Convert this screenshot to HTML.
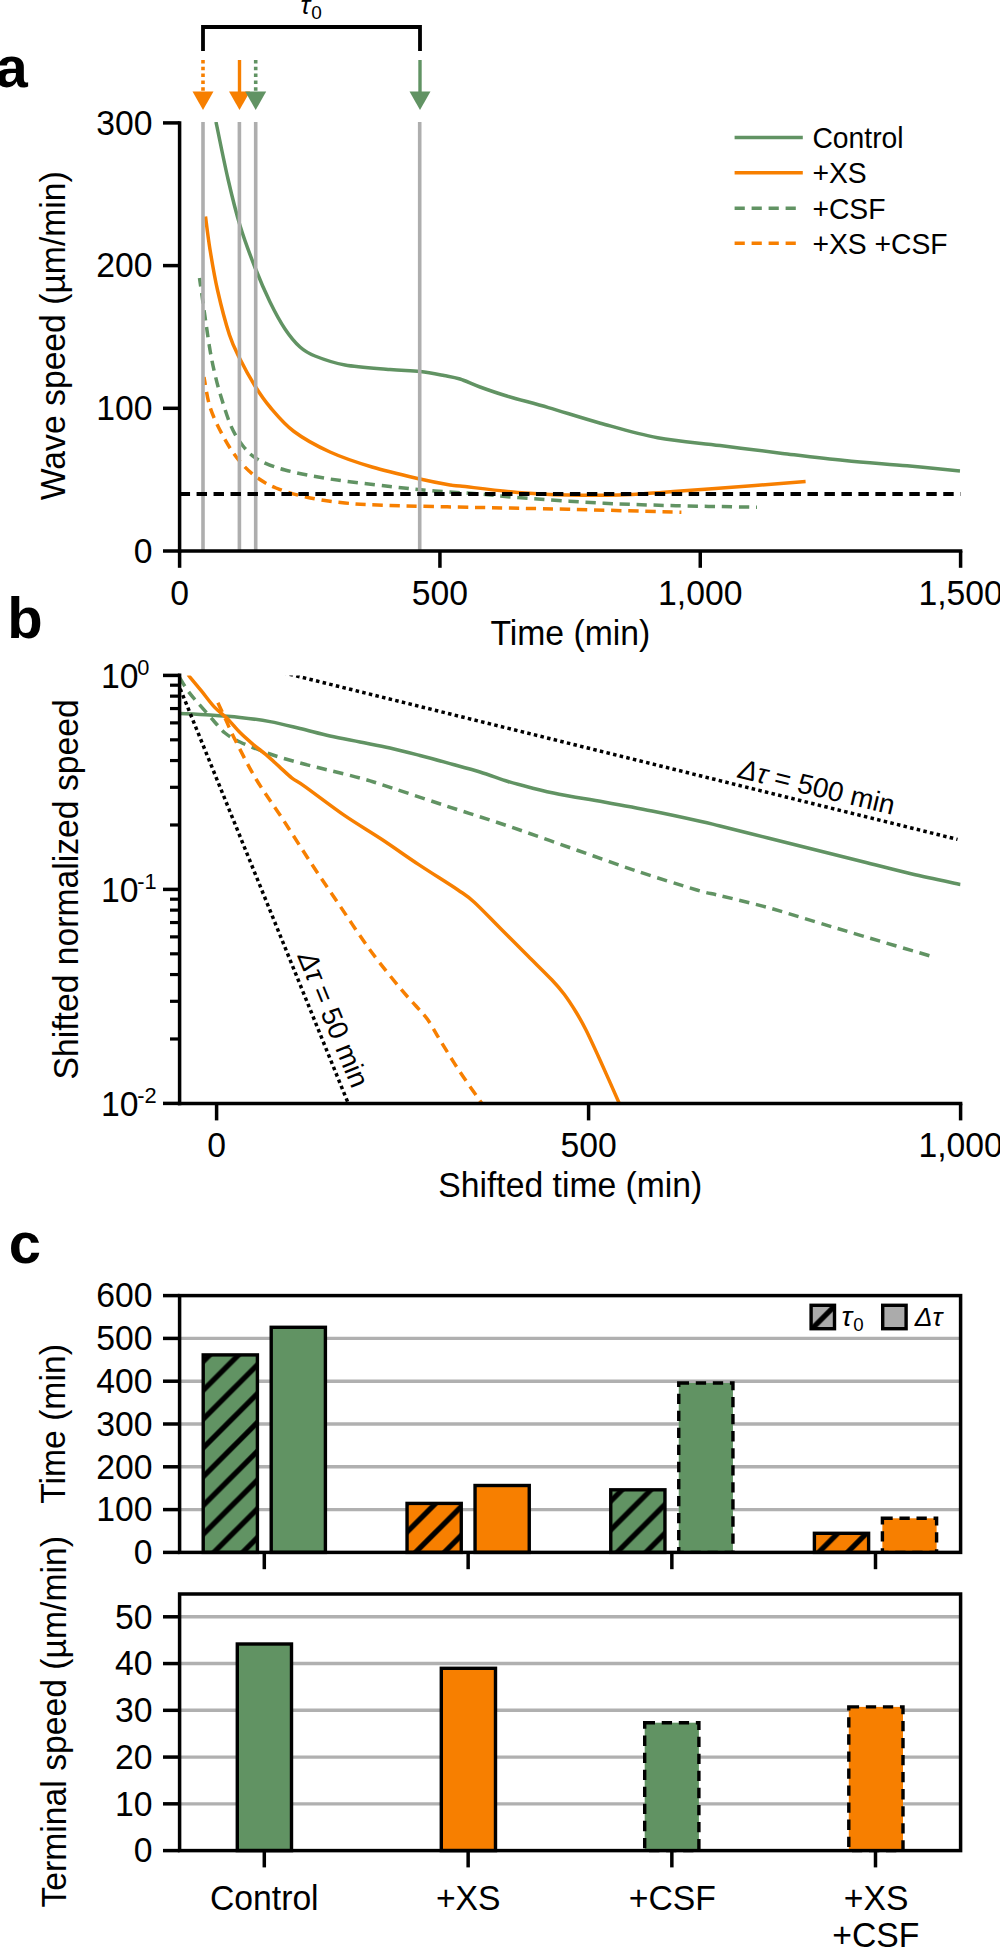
<!DOCTYPE html>
<html><head><meta charset="utf-8"><style>
html,body{margin:0;padding:0;background:#fff;}
svg{display:block;}
text{font-family:"Liberation Sans",sans-serif;fill:#000;}
</style></head><body>
<svg width="1000" height="1948" viewBox="0 0 1000 1948">
<defs>
<clipPath id="clipA"><rect x="179.6" y="122" width="781" height="429"/></clipPath>
<clipPath id="clipB"><rect x="179.6" y="675.4" width="781" height="428.2"/></clipPath>
<pattern id="hatch" patternUnits="userSpaceOnUse" x="0" y="0" width="28.8" height="28.8">
<path d="M-10.00,-9.30 L-9.30,-10.00 M-10.00,19.50 L19.50,-10.00 M-10.00,48.30 L48.30,-10.00 M-10.00,77.10 L77.10,-10.00" stroke="#000" stroke-width="5.2"/>
</pattern>
</defs>
<rect width="1000" height="1948" fill="#fff"/>
<text transform="translate(-4.50,87.30) scale(1,1)" font-size="58" font-weight="bold">a</text>
<path d="M203.00,51.00 L203.00,27.00 L420.00,27.00 L420.00,51.00" fill="none" stroke="#000" stroke-width="3.8" stroke-linejoin="miter"/>
<text transform="translate(300.50,13.70) scale(1,1)" font-size="26" font-style="italic">τ</text>
<text transform="translate(311.30,19.30) scale(1,1)" font-size="19">0</text>
<line x1="203.00" y1="60.00" x2="203.00" y2="91.50" stroke="#F77F00" stroke-width="3.6" stroke-dasharray="3.5,3.3"/>
<path d="M192.50,91.5 L213.50,91.5 L203.00,110 Z" fill="#F77F00"/>
<line x1="239.50" y1="60.00" x2="239.50" y2="92.00" stroke="#F77F00" stroke-width="3.4"/>
<path d="M229.00,91.5 L250.00,91.5 L239.50,110 Z" fill="#F77F00"/>
<line x1="255.70" y1="60.00" x2="255.70" y2="91.50" stroke="#619363" stroke-width="3.6" stroke-dasharray="3.5,3.3"/>
<path d="M245.20,91.5 L266.20,91.5 L255.70,110 Z" fill="#619363"/>
<line x1="420.00" y1="60.00" x2="420.00" y2="92.00" stroke="#619363" stroke-width="3.4"/>
<path d="M409.50,91.5 L430.50,91.5 L420.00,110 Z" fill="#619363"/>
<g clip-path="url(#clipA)">
<path d="M216.00,122.00 C218.00,131.50 224.00,161.75 228.00,179.00 C232.00,196.25 235.50,210.75 240.00,225.50 C244.50,240.25 250.00,254.75 255.00,267.50 C260.00,280.25 265.00,291.75 270.00,302.00 C275.00,312.25 280.00,321.50 285.00,329.00 C290.00,336.50 295.00,342.50 300.00,347.00 C305.00,351.50 307.50,353.00 315.00,356.00 C322.50,359.00 332.50,362.75 345.00,365.00 C357.50,367.25 377.50,368.40 390.00,369.50 C402.50,370.60 411.00,370.60 420.00,371.60 C429.00,372.60 437.33,374.27 444.00,375.50 C450.67,376.73 454.00,377.08 460.00,379.00 C466.00,380.92 472.20,384.17 480.00,387.00 C487.80,389.83 495.40,392.57 506.80,396.00 C518.20,399.43 532.80,403.07 548.40,407.60 C564.00,412.13 582.20,418.17 600.40,423.20 C618.60,428.23 637.67,434.07 657.60,437.80 C677.53,441.53 699.20,443.00 720.00,445.60 C740.80,448.20 761.60,450.90 782.40,453.40 C803.20,455.90 824.00,458.53 844.80,460.60 C865.60,462.67 888.00,464.07 907.20,465.80 C926.40,467.53 951.20,470.13 960.00,471.00" fill="none" stroke="#619363" stroke-width="3.5" stroke-linejoin="round"/>
<path d="M205.50,216.50 C206.25,222.00 208.00,237.25 210.00,249.50 C212.00,261.75 214.25,275.75 217.50,290.00 C220.75,304.25 225.75,323.50 229.50,335.00 C233.25,346.50 235.75,350.50 240.00,359.00 C244.25,367.50 250.00,378.00 255.00,386.00 C260.00,394.00 263.50,399.42 270.00,407.00 C276.50,414.58 284.00,424.00 294.00,431.50 C304.00,439.00 317.00,446.08 330.00,452.00 C343.00,457.92 357.00,462.50 372.00,467.00 C387.00,471.50 407.00,476.00 420.00,479.00 C433.00,482.00 443.33,483.83 450.00,485.00 C456.67,486.17 448.73,484.77 460.00,486.00 C471.27,487.23 499.60,490.90 517.60,492.40 C535.60,493.90 551.20,494.57 568.00,495.00 C584.80,495.43 602.80,495.43 618.40,495.00 C634.00,494.57 646.00,493.43 661.60,492.40 C677.20,491.37 688.00,490.60 712.00,488.80 C736.00,487.00 790.00,482.80 805.60,481.60" fill="none" stroke="#F77F00" stroke-width="3.5" stroke-linejoin="round"/>
<path d="M199.50,278.00 C200.50,285.00 203.75,308.00 205.50,320.00 C207.25,332.00 208.50,341.27 210.00,350.00 C211.50,358.73 212.75,364.90 214.50,372.40 C216.25,379.90 217.75,386.07 220.50,395.00 C223.25,403.93 227.25,417.50 231.00,426.00 C234.75,434.50 238.50,440.42 243.00,446.00 C247.50,451.58 251.00,455.50 258.00,459.50 C265.00,463.50 273.00,466.75 285.00,470.00 C297.00,473.25 312.50,476.25 330.00,479.00 C347.50,481.75 372.50,484.50 390.00,486.50 C407.50,488.50 420.00,489.75 435.00,491.00 C450.00,492.25 465.67,492.87 480.00,494.00 C494.33,495.13 500.33,496.27 521.00,497.80 C541.67,499.33 578.17,501.88 604.00,503.20 C629.83,504.52 650.50,505.03 676.00,505.70 C701.50,506.37 743.50,506.95 757.00,507.20" fill="none" stroke="#619363" stroke-width="3.5" stroke-dasharray="10.3,6.75" stroke-dashoffset="1.6" stroke-linejoin="round"/>
<path d="M204.00,377.00 C205.00,382.00 207.00,397.50 210.00,407.00 C213.00,416.50 217.50,425.50 222.00,434.00 C226.50,442.50 231.50,451.00 237.00,458.00 C242.50,465.00 248.50,471.00 255.00,476.00 C261.50,481.00 267.50,484.50 276.00,488.00 C284.50,491.50 294.50,494.50 306.00,497.00 C317.50,499.50 331.00,501.60 345.00,503.00 C359.00,504.40 367.50,504.65 390.00,505.40 C412.50,506.15 450.33,506.85 480.00,507.50 C509.67,508.15 534.43,508.52 568.00,509.30 C601.57,510.08 662.50,511.72 681.40,512.20" fill="none" stroke="#F77F00" stroke-width="3.5" stroke-dasharray="10.3,6.75" stroke-dashoffset="2.0" stroke-linejoin="round"/>
</g>
<line x1="203.00" y1="122.00" x2="203.00" y2="551.00" stroke="#AEAEAE" stroke-width="3.6"/>
<line x1="239.40" y1="122.00" x2="239.40" y2="551.00" stroke="#AEAEAE" stroke-width="3.6"/>
<line x1="255.70" y1="122.00" x2="255.70" y2="551.00" stroke="#AEAEAE" stroke-width="3.6"/>
<line x1="419.70" y1="122.00" x2="419.70" y2="551.00" stroke="#AEAEAE" stroke-width="3.6"/>
<line x1="179.60" y1="494.00" x2="960.60" y2="494.00" stroke="#000" stroke-width="3.8" stroke-dasharray="10.45,6.52"/>
<line x1="179.60" y1="121.20" x2="179.60" y2="552.75" stroke="#000" stroke-width="3.5"/>
<line x1="177.85" y1="551.00" x2="962.35" y2="551.00" stroke="#000" stroke-width="3.5"/>
<line x1="163.00" y1="551.00" x2="179.60" y2="551.00" stroke="#000" stroke-width="3.5"/>
<text transform="translate(152.40,562.70) scale(1,1.04)" font-size="33.7" text-anchor="end">0</text>
<line x1="163.00" y1="408.30" x2="179.60" y2="408.30" stroke="#000" stroke-width="3.5"/>
<text transform="translate(152.40,420.00) scale(1,1.04)" font-size="33.7" text-anchor="end">100</text>
<line x1="163.00" y1="265.60" x2="179.60" y2="265.60" stroke="#000" stroke-width="3.5"/>
<text transform="translate(152.40,277.30) scale(1,1.04)" font-size="33.7" text-anchor="end">200</text>
<line x1="163.00" y1="122.90" x2="179.60" y2="122.90" stroke="#000" stroke-width="3.5"/>
<text transform="translate(152.40,134.60) scale(1,1.04)" font-size="33.7" text-anchor="end">300</text>
<line x1="179.60" y1="551.00" x2="179.60" y2="567.80" stroke="#000" stroke-width="3.5"/>
<text transform="translate(179.60,604.50) scale(1,1.04)" font-size="33.7" text-anchor="middle">0</text>
<line x1="439.93" y1="551.00" x2="439.93" y2="567.80" stroke="#000" stroke-width="3.5"/>
<text transform="translate(439.93,604.50) scale(1,1.04)" font-size="33.7" text-anchor="middle">500</text>
<line x1="700.27" y1="551.00" x2="700.27" y2="567.80" stroke="#000" stroke-width="3.5"/>
<text transform="translate(700.27,604.50) scale(1,1.04)" font-size="33.7" text-anchor="middle">1,000</text>
<line x1="960.60" y1="551.00" x2="960.60" y2="567.80" stroke="#000" stroke-width="3.5"/>
<text transform="translate(960.60,604.50) scale(1,1.04)" font-size="33.7" text-anchor="middle">1,500</text>
<text transform="translate(570.30,644.80) scale(1,1.04)" font-size="33.7" text-anchor="middle">Time (min)</text>
<text transform="translate(65.3,335.7) rotate(-90) scale(1,1.04)" font-size="33.7" text-anchor="middle">Wave speed (µm/min)</text>
<line x1="734.60" y1="137.50" x2="802.80" y2="137.50" stroke="#619363" stroke-width="3.4"/>
<line x1="734.60" y1="172.80" x2="802.80" y2="172.80" stroke="#F77F00" stroke-width="3.4"/>
<line x1="734.60" y1="208.20" x2="800.00" y2="208.20" stroke="#619363" stroke-width="3.4" stroke-dasharray="10.2,6.8"/>
<line x1="734.60" y1="243.20" x2="800.00" y2="243.20" stroke="#F77F00" stroke-width="3.4" stroke-dasharray="10.2,6.8"/>
<text transform="translate(812.40,147.90) scale(1,1.04)" font-size="28.3">Control</text>
<text transform="translate(812.40,183.20) scale(1,1.04)" font-size="28.3">+XS</text>
<text transform="translate(812.40,218.60) scale(1,1.04)" font-size="28.3">+CSF</text>
<text transform="translate(812.40,253.60) scale(1,1.04)" font-size="28.3">+XS +CSF</text>
<text transform="translate(7.30,637.70) scale(1,1)" font-size="58" font-weight="bold">b</text>
<g clip-path="url(#clipB)">
<path d="M179.50,713.50 C184.58,713.75 199.92,714.35 210.00,715.00 C220.08,715.65 230.00,716.30 240.00,717.40 C250.00,718.50 260.00,719.75 270.00,721.60 C280.00,723.45 290.00,726.10 300.00,728.50 C310.00,730.90 320.00,733.75 330.00,736.00 C340.00,738.25 350.00,740.00 360.00,742.00 C370.00,744.00 380.00,745.75 390.00,748.00 C400.00,750.25 410.00,752.90 420.00,755.50 C430.00,758.10 440.00,760.85 450.00,763.60 C460.00,766.35 470.33,769.02 480.00,772.00 C489.67,774.98 499.67,778.92 508.00,781.50 C516.33,784.08 521.47,785.38 530.00,787.50 C538.53,789.62 546.87,791.78 559.20,794.20 C571.53,796.62 588.53,799.20 604.00,802.00 C619.47,804.80 636.00,807.80 652.00,811.00 C668.00,814.20 688.67,818.70 700.00,821.20 C711.33,823.70 708.67,823.20 720.00,826.00 C731.33,828.80 752.00,834.00 768.00,838.00 C784.00,842.00 800.00,846.00 816.00,850.00 C832.00,854.00 848.00,858.00 864.00,862.00 C880.00,866.00 895.92,870.25 912.00,874.00 C928.08,877.75 952.42,882.75 960.50,884.50" fill="none" stroke="#619363" stroke-width="3.5" stroke-linejoin="round"/>
<path d="M179.50,677.40 C180.92,679.67 184.92,686.73 188.00,691.00 C191.08,695.27 193.83,698.17 198.00,703.00 C202.17,707.83 208.50,715.00 213.00,720.00 C217.50,725.00 220.50,729.33 225.00,733.00 C229.50,736.67 232.50,738.50 240.00,742.00 C247.50,745.50 260.00,750.50 270.00,754.00 C280.00,757.50 290.00,760.25 300.00,763.00 C310.00,765.75 320.00,768.00 330.00,770.50 C340.00,773.00 351.67,775.75 360.00,778.00 C368.33,780.25 366.00,779.47 380.00,784.00 C394.00,788.53 422.67,798.20 444.00,805.20 C465.33,812.20 486.67,818.80 508.00,826.00 C529.33,833.20 550.67,840.93 572.00,848.40 C593.33,855.87 615.20,863.87 636.00,870.80 C656.80,877.73 682.80,885.87 696.80,890.00 C710.80,894.13 708.13,892.67 720.00,895.60 C731.87,898.53 752.00,903.20 768.00,907.60 C784.00,912.00 800.00,917.20 816.00,922.00 C832.00,926.80 844.38,930.57 864.00,936.40 C883.62,942.23 922.08,953.57 933.70,957.00" fill="none" stroke="#619363" stroke-width="3.5" stroke-dasharray="10.3,6.75" stroke-linejoin="round"/>
<path d="M188.00,674.75 C190.17,677.36 196.67,685.09 201.00,690.40 C205.33,695.71 209.67,701.95 214.00,706.60 C218.33,711.25 222.67,713.97 227.00,718.30 C231.33,722.63 235.67,728.27 240.00,732.60 C244.33,736.93 248.67,740.62 253.00,744.30 C257.33,747.98 261.67,751.02 266.00,754.70 C270.33,758.38 274.67,762.50 279.00,766.40 C283.33,770.30 287.67,774.73 292.00,778.10 C296.33,781.47 296.27,780.38 305.00,786.60 C313.73,792.82 331.57,806.58 344.40,815.40 C357.23,824.22 369.67,831.33 382.00,839.50 C394.33,847.67 405.73,855.98 418.40,864.40 C431.07,872.82 448.73,883.73 458.00,890.00 C467.27,896.27 467.00,895.67 474.00,902.00 C481.00,908.33 491.00,919.00 500.00,928.00 C509.00,937.00 519.33,947.33 528.00,956.00 C536.67,964.67 546.00,973.67 552.00,980.00 C558.00,986.33 560.00,988.67 564.00,994.00 C568.00,999.33 572.33,1006.00 576.00,1012.00 C579.67,1018.00 582.00,1022.00 586.00,1030.00 C590.00,1038.00 594.33,1047.50 600.00,1060.00 C605.67,1072.50 616.67,1097.50 620.00,1105.00" fill="none" stroke="#F77F00" stroke-width="3.5" stroke-linejoin="round"/>
<path d="M217.90,702.70 C219.20,705.52 222.82,713.38 225.70,719.60 C228.58,725.82 230.15,730.10 235.20,740.00 C240.25,749.90 248.20,766.00 256.00,779.00 C263.80,792.00 272.83,804.00 282.00,818.00 C291.17,832.00 301.33,848.33 311.00,863.00 C320.67,877.67 330.17,891.50 340.00,906.00 C349.83,920.50 360.00,936.33 370.00,950.00 C380.00,963.67 392.33,978.67 400.00,988.00 C407.67,997.33 411.33,1000.67 416.00,1006.00 C420.67,1011.33 424.00,1014.33 428.00,1020.00 C432.00,1025.67 434.67,1031.33 440.00,1040.00 C445.33,1048.67 452.83,1061.17 460.00,1072.00 C467.17,1082.83 479.17,1099.50 483.00,1105.00" fill="none" stroke="#F77F00" stroke-width="3.5" stroke-dasharray="10.3,6.75" stroke-linejoin="round"/>
<line x1="170.00" y1="663.60" x2="348.30" y2="1103.60" stroke="#000" stroke-width="3.5" stroke-dasharray="3.5,3.3"/>
<line x1="250.00" y1="664.50" x2="957.50" y2="839.40" stroke="#000" stroke-width="3.5" stroke-dasharray="3.5,3.3"/>
</g>
<text transform="translate(737,777.5) rotate(13.5)" font-size="27.8"><tspan font-style="italic">Δτ</tspan> = 500 min</text>
<text transform="translate(297.3,956.2) rotate(67.7)" font-size="27.8"><tspan font-style="italic">Δτ</tspan> = 50 min</text>
<line x1="179.60" y1="673.60" x2="179.60" y2="1105.30" stroke="#000" stroke-width="3.5"/>
<line x1="177.85" y1="1103.60" x2="962.35" y2="1103.60" stroke="#000" stroke-width="3.5"/>
<line x1="163.00" y1="675.40" x2="179.60" y2="675.40" stroke="#000" stroke-width="3.5"/>
<text transform="translate(100.90,688.00) scale(1,1.04)" font-size="33.7">10</text>
<text transform="translate(137.30,675.10) scale(1,1.04)" font-size="21.8">0</text>
<line x1="163.00" y1="889.40" x2="179.60" y2="889.40" stroke="#000" stroke-width="3.5"/>
<text transform="translate(100.90,902.00) scale(1,1.04)" font-size="33.7">10</text>
<text transform="translate(137.30,889.10) scale(1,1.04)" font-size="21.8">-1</text>
<line x1="163.00" y1="1103.40" x2="179.60" y2="1103.40" stroke="#000" stroke-width="3.5"/>
<text transform="translate(100.90,1116.00) scale(1,1.04)" font-size="33.7">10</text>
<text transform="translate(137.30,1103.10) scale(1,1.04)" font-size="21.8">-2</text>
<line x1="170.00" y1="824.98" x2="179.60" y2="824.98" stroke="#000" stroke-width="3.2"/>
<line x1="170.00" y1="787.30" x2="179.60" y2="787.30" stroke="#000" stroke-width="3.2"/>
<line x1="170.00" y1="760.56" x2="179.60" y2="760.56" stroke="#000" stroke-width="3.2"/>
<line x1="170.00" y1="739.82" x2="179.60" y2="739.82" stroke="#000" stroke-width="3.2"/>
<line x1="170.00" y1="722.88" x2="179.60" y2="722.88" stroke="#000" stroke-width="3.2"/>
<line x1="170.00" y1="708.55" x2="179.60" y2="708.55" stroke="#000" stroke-width="3.2"/>
<line x1="170.00" y1="696.14" x2="179.60" y2="696.14" stroke="#000" stroke-width="3.2"/>
<line x1="170.00" y1="685.19" x2="179.60" y2="685.19" stroke="#000" stroke-width="3.2"/>
<line x1="170.00" y1="1038.98" x2="179.60" y2="1038.98" stroke="#000" stroke-width="3.2"/>
<line x1="170.00" y1="1001.30" x2="179.60" y2="1001.30" stroke="#000" stroke-width="3.2"/>
<line x1="170.00" y1="974.56" x2="179.60" y2="974.56" stroke="#000" stroke-width="3.2"/>
<line x1="170.00" y1="953.82" x2="179.60" y2="953.82" stroke="#000" stroke-width="3.2"/>
<line x1="170.00" y1="936.88" x2="179.60" y2="936.88" stroke="#000" stroke-width="3.2"/>
<line x1="170.00" y1="922.55" x2="179.60" y2="922.55" stroke="#000" stroke-width="3.2"/>
<line x1="170.00" y1="910.14" x2="179.60" y2="910.14" stroke="#000" stroke-width="3.2"/>
<line x1="170.00" y1="899.19" x2="179.60" y2="899.19" stroke="#000" stroke-width="3.2"/>
<line x1="216.60" y1="1103.60" x2="216.60" y2="1120.40" stroke="#000" stroke-width="3.5"/>
<text transform="translate(216.60,1156.70) scale(1,1.04)" font-size="33.7" text-anchor="middle">0</text>
<line x1="588.60" y1="1103.60" x2="588.60" y2="1120.40" stroke="#000" stroke-width="3.5"/>
<text transform="translate(588.60,1156.70) scale(1,1.04)" font-size="33.7" text-anchor="middle">500</text>
<line x1="960.60" y1="1103.60" x2="960.60" y2="1120.40" stroke="#000" stroke-width="3.5"/>
<text transform="translate(960.60,1156.70) scale(1,1.04)" font-size="33.7" text-anchor="middle">1,000</text>
<text transform="translate(570.30,1197.30) scale(1,1.04)" font-size="33.7" text-anchor="middle">Shifted time (min)</text>
<text transform="translate(77.6,889.4) rotate(-90) scale(1,1.04)" font-size="33.7" text-anchor="middle">Shifted normalized speed</text>
<text transform="translate(8.70,1263.20) scale(1,1)" font-size="58" font-weight="bold">c</text>
<line x1="179.60" y1="1509.60" x2="960.60" y2="1509.60" stroke="#B0B0B0" stroke-width="3.4"/>
<line x1="179.60" y1="1466.80" x2="960.60" y2="1466.80" stroke="#B0B0B0" stroke-width="3.4"/>
<line x1="179.60" y1="1424.00" x2="960.60" y2="1424.00" stroke="#B0B0B0" stroke-width="3.4"/>
<line x1="179.60" y1="1381.20" x2="960.60" y2="1381.20" stroke="#B0B0B0" stroke-width="3.4"/>
<line x1="179.60" y1="1338.40" x2="960.60" y2="1338.40" stroke="#B0B0B0" stroke-width="3.4"/>
<rect x="203.20" y="1354.90" width="54.20" height="197.50" fill="#619363"/>
<rect x="203.20" y="1354.90" width="54.20" height="197.50" fill="url(#hatch)"/>
<rect x="203.20" y="1354.90" width="54.20" height="197.50" fill="none" stroke="#000" stroke-width="3.4"/>
<rect x="271.20" y="1327.30" width="54.20" height="225.10" fill="#619363"/>
<rect x="271.20" y="1327.30" width="54.20" height="225.10" fill="none" stroke="#000" stroke-width="3.4"/>
<rect x="407.05" y="1503.40" width="54.20" height="49.00" fill="#F77F00"/>
<rect x="407.05" y="1503.40" width="54.20" height="49.00" fill="url(#hatch)"/>
<rect x="407.05" y="1503.40" width="54.20" height="49.00" fill="none" stroke="#000" stroke-width="3.4"/>
<rect x="475.05" y="1485.50" width="54.20" height="66.90" fill="#F77F00"/>
<rect x="475.05" y="1485.50" width="54.20" height="66.90" fill="none" stroke="#000" stroke-width="3.4"/>
<rect x="610.75" y="1489.80" width="54.20" height="62.60" fill="#619363"/>
<rect x="610.75" y="1489.80" width="54.20" height="62.60" fill="url(#hatch)"/>
<rect x="610.75" y="1489.80" width="54.20" height="62.60" fill="none" stroke="#000" stroke-width="3.4"/>
<rect x="678.75" y="1383.00" width="54.20" height="169.40" fill="#619363"/>
<path d="M678.75,1383.00 L732.95,1383.00 L732.95,1552.40 L678.75,1552.40 Z" fill="none" stroke="#000" stroke-width="3.4" stroke-dasharray="10.3,6.75"/>
<rect x="814.40" y="1533.30" width="54.20" height="19.10" fill="#F77F00"/>
<rect x="814.40" y="1533.30" width="54.20" height="19.10" fill="url(#hatch)"/>
<rect x="814.40" y="1533.30" width="54.20" height="19.10" fill="none" stroke="#000" stroke-width="3.4"/>
<rect x="882.40" y="1518.30" width="54.20" height="34.10" fill="#F77F00"/>
<path d="M882.40,1518.30 L936.60,1518.30 L936.60,1552.40 L882.40,1552.40 Z" fill="none" stroke="#000" stroke-width="3.4" stroke-dasharray="10.3,6.75"/>
<rect x="179.6" y="1295.6" width="781" height="256.80" fill="none" stroke="#000" stroke-width="3.5"/>
<line x1="163.00" y1="1552.40" x2="179.60" y2="1552.40" stroke="#000" stroke-width="3.5"/>
<text transform="translate(152.40,1564.10) scale(1,1.04)" font-size="33.7" text-anchor="end">0</text>
<line x1="163.00" y1="1509.60" x2="179.60" y2="1509.60" stroke="#000" stroke-width="3.5"/>
<text transform="translate(152.40,1521.30) scale(1,1.04)" font-size="33.7" text-anchor="end">100</text>
<line x1="163.00" y1="1466.80" x2="179.60" y2="1466.80" stroke="#000" stroke-width="3.5"/>
<text transform="translate(152.40,1478.50) scale(1,1.04)" font-size="33.7" text-anchor="end">200</text>
<line x1="163.00" y1="1424.00" x2="179.60" y2="1424.00" stroke="#000" stroke-width="3.5"/>
<text transform="translate(152.40,1435.70) scale(1,1.04)" font-size="33.7" text-anchor="end">300</text>
<line x1="163.00" y1="1381.20" x2="179.60" y2="1381.20" stroke="#000" stroke-width="3.5"/>
<text transform="translate(152.40,1392.90) scale(1,1.04)" font-size="33.7" text-anchor="end">400</text>
<line x1="163.00" y1="1338.40" x2="179.60" y2="1338.40" stroke="#000" stroke-width="3.5"/>
<text transform="translate(152.40,1350.10) scale(1,1.04)" font-size="33.7" text-anchor="end">500</text>
<line x1="163.00" y1="1295.60" x2="179.60" y2="1295.60" stroke="#000" stroke-width="3.5"/>
<text transform="translate(152.40,1307.30) scale(1,1.04)" font-size="33.7" text-anchor="end">600</text>
<line x1="264.30" y1="1552.40" x2="264.30" y2="1569.20" stroke="#000" stroke-width="3.5"/>
<line x1="468.15" y1="1552.40" x2="468.15" y2="1569.20" stroke="#000" stroke-width="3.5"/>
<line x1="671.85" y1="1552.40" x2="671.85" y2="1569.20" stroke="#000" stroke-width="3.5"/>
<line x1="875.50" y1="1552.40" x2="875.50" y2="1569.20" stroke="#000" stroke-width="3.5"/>
<text transform="translate(65.3,1424) rotate(-90) scale(1,1.04)" font-size="33.7" text-anchor="middle">Time (min)</text>
<rect x="811.1" y="1305.3" width="23.4" height="23.4" fill="#ABABAB"/>
<rect x="811.1" y="1305.3" width="23.4" height="23.4" fill="url(#hatch)"/>
<rect x="811.1" y="1305.3" width="23.4" height="23.4" fill="none" stroke="#000" stroke-width="3.4"/>
<text transform="translate(841.50,1325.60) scale(1,1)" font-size="28.5" font-style="italic">τ</text>
<text transform="translate(853.30,1331.40) scale(1,1)" font-size="18.7">0</text>
<rect x="882.7" y="1305.3" width="23.4" height="23.4" fill="#ABABAB" stroke="#000" stroke-width="3.4"/>
<text x="914.8" y="1325.9" font-size="26.5" font-style="italic">Δτ</text>
<line x1="179.60" y1="1803.84" x2="960.60" y2="1803.84" stroke="#B0B0B0" stroke-width="3.4"/>
<line x1="179.60" y1="1757.08" x2="960.60" y2="1757.08" stroke="#B0B0B0" stroke-width="3.4"/>
<line x1="179.60" y1="1710.32" x2="960.60" y2="1710.32" stroke="#B0B0B0" stroke-width="3.4"/>
<line x1="179.60" y1="1663.56" x2="960.60" y2="1663.56" stroke="#B0B0B0" stroke-width="3.4"/>
<line x1="179.60" y1="1616.80" x2="960.60" y2="1616.80" stroke="#B0B0B0" stroke-width="3.4"/>
<rect x="237.30" y="1644.00" width="54.20" height="206.60" fill="#619363"/>
<rect x="237.30" y="1644.00" width="54.20" height="206.60" fill="none" stroke="#000" stroke-width="3.4"/>
<rect x="441.30" y="1668.30" width="54.20" height="182.30" fill="#F77F00"/>
<rect x="441.30" y="1668.30" width="54.20" height="182.30" fill="none" stroke="#000" stroke-width="3.4"/>
<rect x="644.70" y="1722.70" width="54.20" height="127.90" fill="#619363"/>
<path d="M644.70,1722.70 L698.90,1722.70 L698.90,1850.60 L644.70,1850.60 Z" fill="none" stroke="#000" stroke-width="3.4" stroke-dasharray="10.3,6.75"/>
<rect x="848.80" y="1706.90" width="54.20" height="143.70" fill="#F77F00"/>
<path d="M848.80,1706.90 L903.00,1706.90 L903.00,1850.60 L848.80,1850.60 Z" fill="none" stroke="#000" stroke-width="3.4" stroke-dasharray="10.3,6.75"/>
<rect x="179.6" y="1594.0" width="781" height="256.60" fill="none" stroke="#000" stroke-width="3.5"/>
<line x1="163.00" y1="1850.60" x2="179.60" y2="1850.60" stroke="#000" stroke-width="3.5"/>
<text transform="translate(152.40,1862.30) scale(1,1.04)" font-size="33.7" text-anchor="end">0</text>
<line x1="163.00" y1="1803.84" x2="179.60" y2="1803.84" stroke="#000" stroke-width="3.5"/>
<text transform="translate(152.40,1815.54) scale(1,1.04)" font-size="33.7" text-anchor="end">10</text>
<line x1="163.00" y1="1757.08" x2="179.60" y2="1757.08" stroke="#000" stroke-width="3.5"/>
<text transform="translate(152.40,1768.78) scale(1,1.04)" font-size="33.7" text-anchor="end">20</text>
<line x1="163.00" y1="1710.32" x2="179.60" y2="1710.32" stroke="#000" stroke-width="3.5"/>
<text transform="translate(152.40,1722.02) scale(1,1.04)" font-size="33.7" text-anchor="end">30</text>
<line x1="163.00" y1="1663.56" x2="179.60" y2="1663.56" stroke="#000" stroke-width="3.5"/>
<text transform="translate(152.40,1675.26) scale(1,1.04)" font-size="33.7" text-anchor="end">40</text>
<line x1="163.00" y1="1616.80" x2="179.60" y2="1616.80" stroke="#000" stroke-width="3.5"/>
<text transform="translate(152.40,1628.50) scale(1,1.04)" font-size="33.7" text-anchor="end">50</text>
<line x1="264.30" y1="1850.60" x2="264.30" y2="1867.40" stroke="#000" stroke-width="3.5"/>
<line x1="468.15" y1="1850.60" x2="468.15" y2="1867.40" stroke="#000" stroke-width="3.5"/>
<line x1="671.85" y1="1850.60" x2="671.85" y2="1867.40" stroke="#000" stroke-width="3.5"/>
<line x1="875.50" y1="1850.60" x2="875.50" y2="1867.40" stroke="#000" stroke-width="3.5"/>
<text transform="translate(264.30,1910.00) scale(1,1.04)" font-size="33.7" text-anchor="middle">Control</text>
<text transform="translate(468.20,1910.00) scale(1,1.04)" font-size="33.7" text-anchor="middle">+XS</text>
<text transform="translate(672.30,1910.00) scale(1,1.04)" font-size="33.7" text-anchor="middle">+CSF</text>
<text transform="translate(876.10,1909.80) scale(1,1.04)" font-size="33.7" text-anchor="middle">+XS</text>
<text transform="translate(875.80,1946.50) scale(1,1.04)" font-size="33.7" text-anchor="middle">+CSF</text>
<text transform="translate(65.5,1721.8) rotate(-90) scale(1,1.04)" font-size="33.7" text-anchor="middle">Terminal speed (µm/min)</text>
</svg>
</body></html>
